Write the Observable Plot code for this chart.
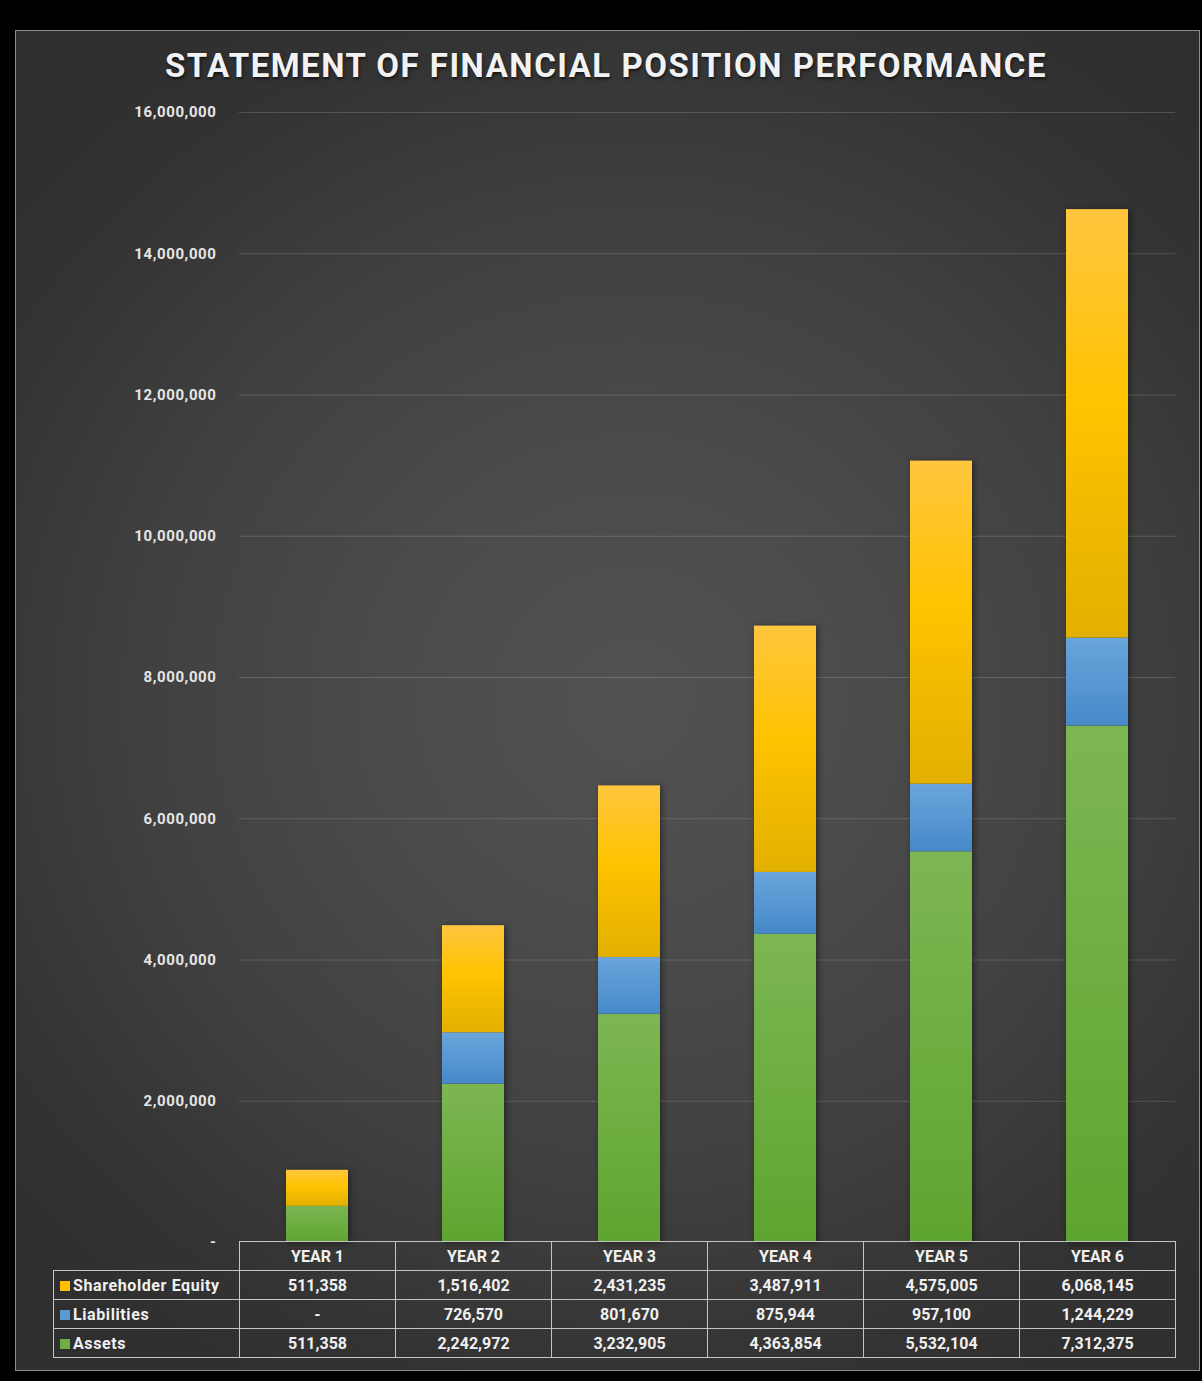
<!DOCTYPE html>
<html>
<head>
<meta charset="utf-8">
<script src="https://cdn.jsdelivr.net/npm/d3@7"></script>
<script src="https://cdn.jsdelivr.net/npm/@observablehq/plot@0.6"></script>
<style>
  html, body { margin: 0; padding: 0; background: #000; }
  #wrap { position: relative; width: 1202px; height: 1381px; overflow: hidden; background: #000; font-family: Roboto, "DejaVu Sans", sans-serif; }
  #panel { position: absolute; left: 15px; top: 30px; width: 1183px; height: 1339px; border: 1.5px solid #8c8c8c;
    background: radial-gradient(ellipse 70% 60% at 52% 50%, #525252 0%, #4b4b4b 30%, #404040 60%, #333 85%, #2f2f2f 100%); }
  #title { position: absolute; left: 0; width: 1212px; top: 44px; text-align: center; color: #f2f2f2; font-weight: 700;
    font-size: 33px; line-height: 44px; letter-spacing: 1.5px; text-shadow: 1px 2px 3px rgba(0,0,0,0.6); }
  #chart { position: absolute; left: 0; top: 0; }
  #table { position: absolute; left: 53px; top: 1241px; border-collapse: collapse; table-layout: fixed; width: 1123px; color: #f0f0f0; font-weight: 700; font-size: 16px; }
  #table td { border: 1.5px solid #c4c4c4; text-align: center; padding: 0; height: 28px; }
  #table td.lab { text-align: left; padding-left: 6px; letter-spacing: 0.6px; }
  #table td.empty { border-top: none; border-left: none; }
  .key { display: inline-block; width: 10px; height: 10px; margin-right: 3px; vertical-align: 0px; }
</style>
</head>
<body>
<div id="wrap">
  <div id="panel"></div>
  <div id="title">STATEMENT OF FINANCIAL POSITION PERFORMANCE</div>
  <div id="chart"></div>
  <table id="table"><colgroup><col style="width:186px"><col style="width:156px"><col style="width:156px"><col style="width:156px"><col style="width:156px"><col style="width:156px"><col style="width:156px"></colgroup></table>
</div>
<script>
const years = ["YEAR 1", "YEAR 2", "YEAR 3", "YEAR 4", "YEAR 5", "YEAR 6"];
const seriesNames = ["Shareholder Equity", "Liabilities", "Assets"];
const equity = [511358, 1516402, 2431235, 3487911, 4575005, 6068145];
const liabilities = [0, 726570, 801670, 875944, 957100, 1244229];
const assets = [511358, 2242972, 3232905, 4363854, 5532104, 7312375];
const yTicks = [0, 2000000, 4000000, 6000000, 8000000, 10000000, 12000000, 14000000, 16000000];
const keyColors = {"Shareholder Equity": "#ffc000", "Liabilities": "#5b9bd5", "Assets": "#70ad47"};

const valuesBySeries = {"Shareholder Equity": equity, "Liabilities": liabilities, "Assets": assets};
const stackOrder = ["Assets", "Liabilities", "Shareholder Equity"];
const data = [];
stackOrder.forEach(s => years.forEach((y, i) => data.push({year: y, series: s, value: valuesBySeries[s][i]})));

const fmt = d3.format(",");
const W = 1202, H = 1262;
const chart = Plot.plot({
  width: W, height: H,
  marginTop: 112, marginBottom: H - 1242, marginLeft: 239, marginRight: W - 1175,
  style: {background: "transparent", fontFamily: "Roboto, sans-serif", overflow: "visible"},
  x: {domain: years, paddingInner: 0.6, paddingOuter: 0.3, axis: null},
  y: {domain: [0, 16000000], ticks: yTicks, label: null, grid: false, axis: null},
  color: {domain: stackOrder, range: ["url(#gAssets)", "url(#gLiab)", "url(#gEq)"]},
  marks: [
    Plot.gridY(yTicks.filter(d => d > 0), {stroke: "#ffffff", strokeOpacity: 0.16, strokeWidth: 1}),
    Plot.axisY(yTicks, {tickSize: 0, tickPadding: 23, fill: "#e6e6e6", fontSize: 15, fontWeight: 700, label: null,
      tickFormat: d => d === 0 ? "-" : fmt(d)}),
    Plot.barY(data, Plot.stackY({x: "year", y: "value", fill: "series", order: stackOrder}))
  ]
});
document.getElementById("chart").appendChild(chart);

const svg = d3.select(chart);
const defs = svg.insert("defs", ":first-child");
function grad(id, stops) {
  const g = defs.append("linearGradient").attr("id", id).attr("x1", 0).attr("y1", 0).attr("x2", 0).attr("y2", 1);
  stops.forEach(([o, c]) => g.append("stop").attr("offset", o).attr("stop-color", c));
}
grad("gEq", [[0, "#ffc63f"], [0.45, "#ffc300"], [1, "#e2b000"]]);
grad("gLiab", [[0, "#6aa5dc"], [1, "#4689c9"]]);
grad("gAssets", [[0, "#7db653"], [1, "#5ea52f"]]);
svg.selectAll("g[aria-label='bar']").style("filter", "drop-shadow(2px 1px 3px rgba(0,0,0,0.45))");
svg.selectAll("g[aria-label='y-axis tick label'] text").style("letter-spacing", "0.6px");

// table
const table = d3.select("#table");
const head = table.append("tr");
head.append("td").attr("class", "empty");
years.forEach(y => head.append("td").text(y));
seriesNames.forEach(s => {
  const tr = table.append("tr");
  const lab = tr.append("td").attr("class", "lab");
  lab.append("span").attr("class", "key").style("background", keyColors[s]);
  lab.append("span").text(s);
  valuesBySeries[s].forEach(v => tr.append("td").text(v === 0 ? "-" : fmt(v)));
});
</script>
</body>
</html>
